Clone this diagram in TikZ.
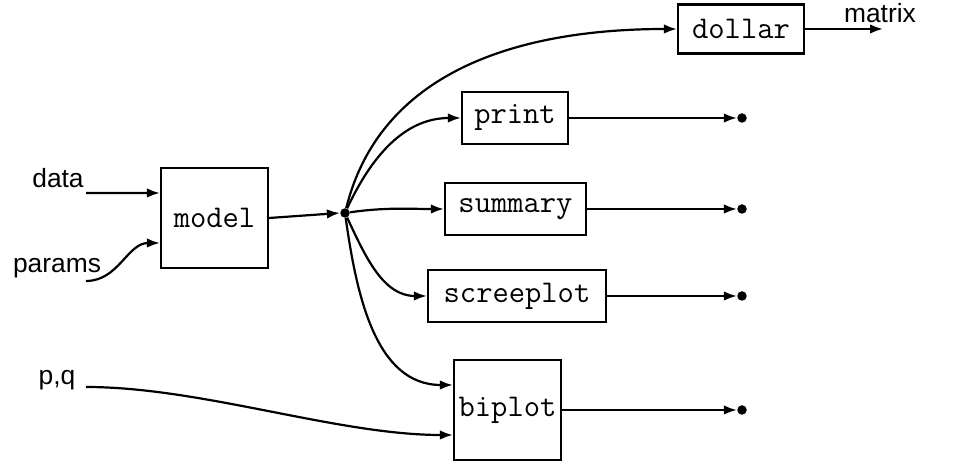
\documentclass[tikz,border=0pt]{standalone}
\usepackage{fontspec}
\setmainfont{Liberation Sans}
\usepackage{tikz}
\usetikzlibrary{arrows.meta,positioning}

\begin{document}
\begin{tikzpicture}[
  fn/.style={draw,line width=1.25pt,inner sep=0pt,minimum height=1.04cm,font=\ttfamily\fontsize{18}{18}\selectfont},
  lbl/.style={inner sep=0pt,font=\fontsize{15}{15}\selectfont},
  dot/.style={circle,fill,inner sep=0pt,minimum size=0.19cm},
  arr/.style={-{Latex[length=0.26cm,width=0.19cm]},line width=1.25pt}
]
  \useasboundingbox (0,0) rectangle (19.3,9.3);

  \node[fn, minimum width=2.14cm, minimum height=2.0cm] (model) at (4.29,4.94) {model};
  \node[dot] (hub) at (6.90,5.04) {};

  \node[fn, minimum width=2.52cm, minimum height=0.98cm] (dollar) at (14.82,8.72) {dollar};
  \node[fn, minimum width=2.12cm] (print) at (10.30,6.94) {print};
  \node[fn, minimum width=2.82cm] (summary) at (10.31,5.12) {summary};
  \node[fn, minimum width=3.56cm] (screeplot) at (10.34,3.38) {screeplot};
  \node[fn, minimum width=2.14cm, minimum height=2.0cm] (biplot) at (10.15,1.10) {biplot};

  \node[dot] (printout) at (14.84,6.94) {};
  \node[dot] (summaryout) at (14.84,5.12) {};
  \node[dot] (screeout) at (14.84,3.38) {};
  \node[dot] (biplotout) at (14.84,1.10) {};
  \coordinate (matout) at (17.66,8.72);

  \node[lbl] (data) at (1.16,5.74) {data};
  \node[lbl] (params) at (1.14,3.94) {params};
  \node[lbl] (pq) at (1.14,1.70) {p,q};
  \node[lbl] (matrix) at (17.60,9.04) {matrix};

  \coordinate (datain) at (1.72,5.44);
  \coordinate (paramsin) at (1.72,3.68);
  \coordinate (pqin) at (1.72,1.56);

  % inputs
  \draw[arr] (datain) -- ([yshift=0.5cm]model.west);
  \draw[arr] (paramsin) to[out=0,in=180] ([yshift=-0.5cm]model.west);
  \draw[arr] (pqin) to[out=0,in=180,looseness=0.8] ([yshift=-0.5cm]biplot.west);
  \draw[arr] (model.east) -- (hub.west);

  % fan out
  \draw[arr] (hub) to[out=76,in=180] (dollar.west);
  \draw[arr] (hub) to[out=65,in=180] (print.west);
  \draw[arr] (hub) to[out=8,in=180] (summary.west);
  \draw[arr] (hub) to[out=-65,in=180] (screeplot.west);
  \draw[arr] (hub) to[out=-82,in=180] ([yshift=0.5cm]biplot.west);

  % outputs
  \draw[arr] (dollar) -- (matout);
  \draw[arr] (print) -- (printout);
  \draw[arr] (summary) -- (summaryout);
  \draw[arr] (screeplot) -- (screeout);
  \draw[arr] (biplot) -- (biplotout);
\end{tikzpicture}
\end{document}
